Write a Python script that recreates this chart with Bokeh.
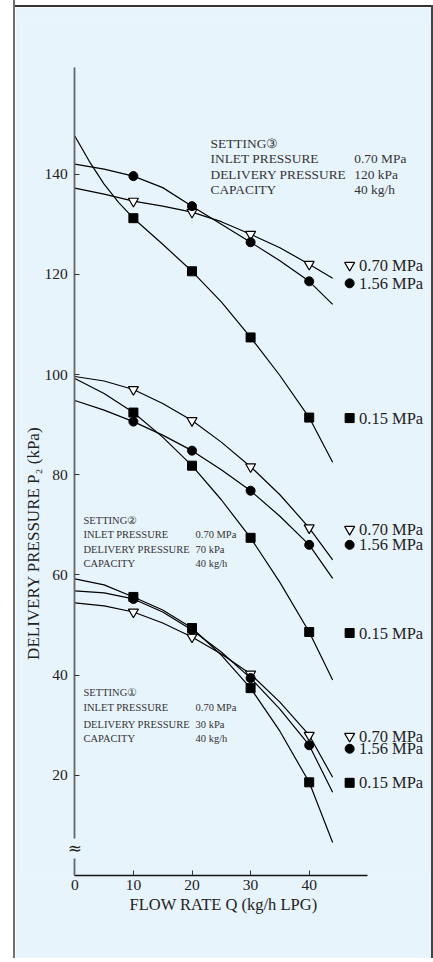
from math import pi
from bokeh.plotting import figure
from bokeh.models import FixedTicker, Label, Spacer, Range1d
from bokeh.layouts import row, column
from bokeh.embed import file_html
from bokeh.resources import INLINE
from bokeh.core.properties import value

FONT = "Liberation Serif"
BG = "#E8F4FC"
INK = "#222222"

# ---------------- data ----------------
marker_x = [10, 20, 30, 40]

# setting 3 (delivery 120 kPa)
s3_tri = [134.6, 132.4, 128.0, 122.0]
s3_cir = [139.6, 133.6, 126.4, 118.6]
s3_sq = [131.2, 120.6, 107.4, 91.4]
# setting 2 (delivery 70 kPa)
s2_tri = [97.0, 90.8, 81.6, 69.4]
s2_cir = [90.6, 84.8, 76.8, 66.0]
s2_sq = [92.4, 81.8, 67.4, 48.6]
# setting 1 (delivery 30 kPa)
s1_tri = [52.6, 47.6, 40.2, 28.0]
s1_cir = [55.2, 49.0, 39.4, 26.0]
s1_sq = [55.6, 49.4, 37.4, 18.6]

# characteristic curves
curve_x = [0, 5, 10, 15, 20, 25, 30, 35, 40, 44]
s3_tri_curve = [137.2, 136.0, 134.6, 133.6, 132.4, 130.5, 128.0, 125.3, 122.0, 119.2]
s3_cir_curve = [142.0, 141.0, 139.6, 137.3, 133.6, 130.0, 126.4, 122.7, 118.6, 114.0]
s3_sq_curve_x = [0, 2.5, 5, 7.5, 10, 15, 20, 25, 30, 35, 40, 44]
s3_sq_curve = [147.6, 142.5, 138.0, 134.3, 131.2, 126.0, 120.6, 114.5, 107.4, 99.8, 91.4, 82.5]

s2_tri_curve = [99.6, 98.7, 97.0, 94.2, 90.8, 86.5, 81.6, 76.0, 69.4, 63.0]
s2_cir_curve = [94.8, 92.9, 90.6, 87.9, 84.8, 81.0, 76.8, 71.7, 66.0, 59.3]
s2_sq_curve = [99.2, 96.2, 92.4, 87.5, 81.8, 75.0, 67.4, 58.5, 48.6, 39.0]

s1_tri_curve = [54.4, 53.8, 52.6, 50.4, 47.6, 44.2, 40.2, 34.6, 28.0, 19.6]
s1_cir_curve = [56.8, 56.4, 55.2, 52.6, 49.0, 44.6, 39.4, 33.2, 26.0, 16.6]
s1_sq_curve = [59.2, 58.0, 55.6, 53.0, 49.4, 44.0, 37.4, 28.8, 18.6, 6.6]

x_ticks = [0, 10, 20, 30, 40]
y_ticks = [20, 40, 60, 80, 100, 120, 140]

legend_text = ["0.70 MPa", "1.56 MPa", "0.15 MPa"]
legend_y3 = [121.8, 118.2, 91.3]
legend_y2 = [69.1, 66.0, 48.4]
legend_y1 = [27.8, 25.3, 18.5]

setting3_labels = ["SETTING③", "INLET PRESSURE", "DELIVERY PRESSURE", "CAPACITY"]
setting3_values = ["", "0.70 MPa", "120 kPa", "40 kg/h"]
setting2_labels = ["SETTING②", "INLET PRESSURE", "DELIVERY PRESSURE", "CAPACITY"]
setting2_values = ["", "0.70 MPa", "70 kPa", "40 kg/h"]
setting1_labels = ["SETTING①", "INLET PRESSURE", "DELIVERY PRESSURE", "CAPACITY"]
setting1_values = ["", "0.70 MPa", "30 kPa", "40 kg/h"]
setting3_y = [146.2, 143.2, 140.0, 137.0]
setting2_y = [70.9, 68.1, 65.1, 62.3]
setting1_y = [36.6, 33.6, 30.2, 27.4]

# ---------------- figure ----------------
XPX = 5.86   # px per kg/h
YPX = 5.01   # px per kPa
FRAME_W, FRAME_H = 404, 855
X0 = -(74.3 - 21) / XPX
p = figure(frame_width=FRAME_W, frame_height=FRAME_H,
           x_range=Range1d(X0, X0 + FRAME_W / XPX), y_range=Range1d(0, FRAME_H / YPX),
           output_backend="svg", toolbar_location=None,
           min_border_left=6, min_border_right=6, min_border_top=13, min_border_bottom=83,
           background_fill_color=BG, border_fill_color=BG)
p.outline_line_color = None
p.grid.visible = False

p.yaxis.fixed_location = 0
p.xaxis.bounds = (0, 50)
p.yaxis.bounds = (0, 161.3)
p.xaxis.ticker = FixedTicker(ticks=x_ticks)
p.yaxis.ticker = FixedTicker(ticks=y_ticks)
for ax in (p.xaxis[0], p.yaxis[0]):
    ax.major_tick_in = 5
    ax.major_tick_out = 0
    ax.minor_tick_line_color = None
    ax.major_label_text_font = FONT
    ax.major_label_text_font_size = "15.5px"
    ax.major_label_text_color = INK
    ax.major_tick_line_color = "#333333"
p.xaxis.axis_line_color = "#111111"
p.xaxis.axis_line_width = 1.5
p.yaxis.axis_line_color = "#666666"
p.yaxis.axis_line_width = 1.8
p.yaxis.major_label_standoff = 7
p.xaxis.major_label_standoff = 4
p.xaxis.axis_label = "FLOW RATE Q (kg/h LPG)"
p.xaxis.axis_label_text_font = FONT
p.xaxis.axis_label_text_font_size = "16.5px"
p.xaxis.axis_label_text_font_style = "normal"
p.xaxis.axis_label_text_color = INK
p.xaxis.axis_label_standoff = 2

ylab = Label(x=-7.05, y=66.3, text="DELIVERY PRESSURE P₂ (kPa)", angle=pi / 2,
             text_align="center", text_baseline="middle", text_font=FONT,
             text_font_size="17px", text_color=INK)
p.add_layout(ylab)

brk = Label(x=0, y=5.4, text="≈", text_align="center", text_baseline="middle",
            text_font="DejaVu Serif", text_font_size="17px", text_color=INK,
            background_fill_color=BG)
p.add_layout(brk)

LW = 1.2
for cx, cy in [(curve_x, s3_tri_curve), (curve_x, s3_cir_curve), (s3_sq_curve_x, s3_sq_curve),
               (curve_x, s2_tri_curve), (curve_x, s2_cir_curve), (curve_x, s2_sq_curve),
               (curve_x, s1_tri_curve), (curve_x, s1_cir_curve), (curve_x, s1_sq_curve)]:
    p.line(cx, cy, line_color="black", line_width=LW)


def markers(xs, tri, cir, sq):
    p.scatter(xs, tri, marker="inverted_triangle", size=10, fill_color="white",
              line_color="black", line_width=1.2)
    p.scatter(xs, cir, marker="circle", size=9, fill_color="black", line_color="black")
    p.scatter(xs, sq, marker="square", size=9, fill_color="black", line_color="black")


markers(marker_x, s3_tri, s3_cir, s3_sq)
markers(marker_x, s2_tri, s2_cir, s2_sq)
markers(marker_x, s1_tri, s1_cir, s1_sq)

# right-hand legend labels
LEG_MX = 46.9
LEG_TX = 48.5
for ys in (legend_y3, legend_y2, legend_y1):
    markers([LEG_MX], [ys[0]], [ys[1]], [ys[2]])
    p.text(x=[LEG_TX] * 3, y=ys, text=legend_text, text_font=value(FONT),
           text_font_size="16.5px", text_baseline="middle", text_align="left", text_color=INK)

# setting annotation blocks
p.text(x=[23.16] * 4, y=setting3_y, text=setting3_labels, text_font=value(FONT),
       text_font_size="13.4px", text_baseline="middle", text_color="#333333")
p.text(x=[47.7] * 4, y=setting3_y, text=setting3_values, text_font=value(FONT),
       text_font_size="13.4px", text_baseline="middle", text_color="#333333")
for labs, vals, ys in ((setting2_labels, setting2_values, setting2_y),
                       (setting1_labels, setting1_values, setting1_y)):
    p.text(x=[1.48] * 4, y=ys, text=labs, text_font=value(FONT),
           text_font_size="10.5px", text_baseline="middle", text_color="#333333")
    p.text(x=[20.6] * 4, y=ys, text=vals, text_font=value(FONT),
           text_font_size="10.5px", text_baseline="middle", text_color="#333333")

H = 958
left_edge = Spacer(width=15, height=H,
                   styles={"background": "linear-gradient(to right, #ffffff 0px, #ffffff 13px, #707070 13px, #707070 15px)"})
top_edge = Spacer(width=416, height=7,
                  styles={"background": "linear-gradient(to bottom, #ffffff 0px, #ffffff 5.5px, #333333 5.5px, #333333 7px)"})
right_edge = Spacer(width=2, height=H,
                    styles={"background": "linear-gradient(to bottom, #ffffff 0px, #ffffff 5.5px, #444444 5.5px, #444444 100%)"})
p.width = 416
p.height = H - 7
layout = row(left_edge, column(top_edge, p), right_edge)

open("out.html", "w").write(file_html(layout, INLINE))
